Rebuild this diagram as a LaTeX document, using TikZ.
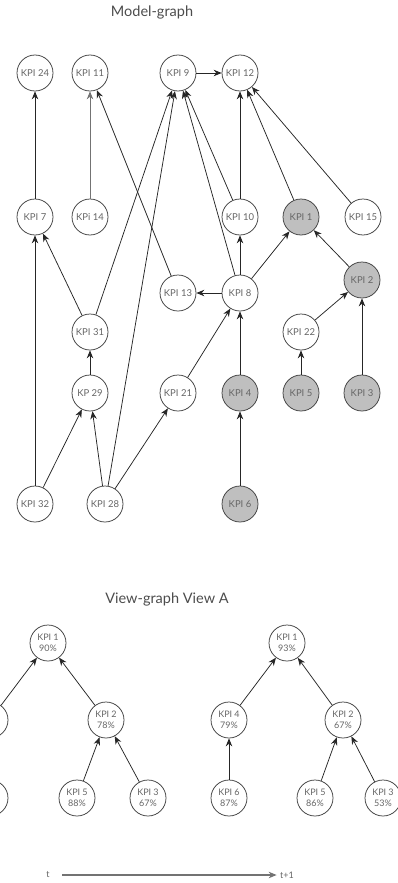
\documentclass[tikz,border=0pt]{standalone}
\usepackage{fontspec}
\setmainfont{Lato}
\usetikzlibrary{arrows.meta}
\begin{document}
\begin{tikzpicture}[x=1pt,y=-1pt,
 kpi/.style={circle, draw=black!75, line width=0.75pt, minimum size=36pt, inner sep=0pt, fill=white, font=\fontsize{9.5}{11}\selectfont, text=black!60},
 hot/.style={kpi, fill=black!25},
 vkpi/.style={kpi, align=center, font=\fontsize{9}{11}\selectfont},
 arr/.style={-{Stealth[length=8pt,width=6.5pt]}, line width=0.75pt, draw=black!85},
 ttl/.style={font=\fontsize{14.5}{17}\selectfont, text=black!70},
 lbl/.style={font=\fontsize{9}{10}\selectfont, text=black!60}
]
\useasboundingbox (0,0) rectangle (398,883);
\node[ttl] (t1) at (152,12) {Model-graph};
% row 1
\node[kpi] (k24) at (35,73) {KPI 24};
\node[kpi] (k11) at (90,73) {KPI 11};
\node[kpi] (k9) at (178,73) {KPI 9};
\node[kpi] (k12) at (240,73) {KPI 12};
% row 2
\node[kpi] (k7) at (35,217) {KPI 7};
\node[kpi] (k14) at (90,217) {KPi 14};
\node[kpi] (k10) at (240,217) {KPI 10};
\node[hot] (k1) at (301,217) {KPI 1};
\node[kpi] (k15) at (363,217) {KPI 15};
% row 3
\node[kpi] (k13) at (178,293) {KPI 13};
\node[kpi] (k8) at (240,293) {KPI 8};
\node[hot] (k2) at (362,280) {KPI 2};
\node[kpi] (k31) at (90,332) {KPI 31};
\node[kpi] (k22) at (301,332) {KPI 22};
% row 4
\node[kpi] (k29) at (90,393) {KP 29};
\node[kpi] (k21) at (178,393) {KPI 21};
\node[hot] (k4) at (240,393) {KPI 4};
\node[hot] (k5) at (301,393) {KPI 5};
\node[hot] (k3) at (362,393) {KPI 3};
% row 5
\node[kpi] (k32) at (35,504) {KPI 32};
\node[kpi] (k28) at (105,504) {KPI 28};
\node[hot] (k6) at (240,504) {KPI 6};
% edges
\draw[arr] (k7) -- (k24);
\draw[arr, draw=black!55] (k14) -- (k11);
\draw[arr] (k13) -- (k11);
\draw[arr] (k31) -- (k9);
\draw[arr] (k28) -- (k9);
\draw[arr] (k8) -- (k9);
\draw[arr] (k10) -- (k9);
\draw[arr] (k9) -- (k12);
\draw[arr] (k10) -- (k12);
\draw[arr] (k1) -- (k12);
\draw[arr] (k15) -- (k12);
\draw[arr] (k31) -- (k7);
\draw[arr] (k32) -- (k7);
\draw[arr] (k29) -- (k31);
\draw[arr] (k32) -- (k29);
\draw[arr] (k28) -- (k29);
\draw[arr] (k28) -- (k21);
\draw[arr] (k21) -- (k8);
\draw[arr] (k4) -- (k8);
\draw[arr] (k8) -- (k10);
\draw[arr] (k8) -- (k13);
\draw[arr] (k8) -- (k1);
\draw[arr] (k2) -- (k1);
\draw[arr] (k22) -- (k2);
\draw[arr] (k5) -- (k22);
\draw[arr] (k3) -- (k2);
\draw[arr] (k6) -- (k4);
% view graph
\node[ttl] (t2) at (167,599) {View-graph View A};
\node[vkpi] (a1) at (48,643) {KPI 1\\90\%};
\node[vkpi] (a4) at (-10,720) {};
\node[vkpi] (a2) at (106,720) {KPI 2\\78\%};
\node[vkpi] (a6) at (-10,798) {};
\node[vkpi] (a5) at (77,798) {KPI 5\\88\%};
\node[vkpi] (a3) at (148,798) {KPI 3\\67\%};
\draw[arr] (a4) -- (a1);
\draw[arr] (a2) -- (a1);
\draw[arr] (a6) -- (a4);
\draw[arr] (a5) -- (a2);
\draw[arr] (a3) -- (a2);
\node[vkpi] (b1) at (287,643) {KPI 1\\93\%};
\node[vkpi] (b4) at (229,720) {KPI 4\\79\%};
\node[vkpi] (b2) at (343,720) {KPI 2\\67\%};
\node[vkpi] (b6) at (229,798) {KPI 6\\87\%};
\node[vkpi] (b5) at (315,798) {KPI 5\\86\%};
\node[vkpi] (b3) at (383,798) {KPI 3\\53\%};
\draw[arr] (b4) -- (b1);
\draw[arr] (b2) -- (b1);
\draw[arr] (b6) -- (b4);
\draw[arr] (b5) -- (b2);
\draw[arr] (b3) -- (b2);
% time axis
\node[lbl] (tl) at (48,875) {t};
\node[lbl] (tr) at (287,875) {t+1};
\coordinate (ts) at (62,875);
\draw[-{Stealth[length=8pt,width=6.5pt]}, line width=1.1pt, draw=black!55] (ts) -- (tr.west);
\end{tikzpicture}
\end{document}
